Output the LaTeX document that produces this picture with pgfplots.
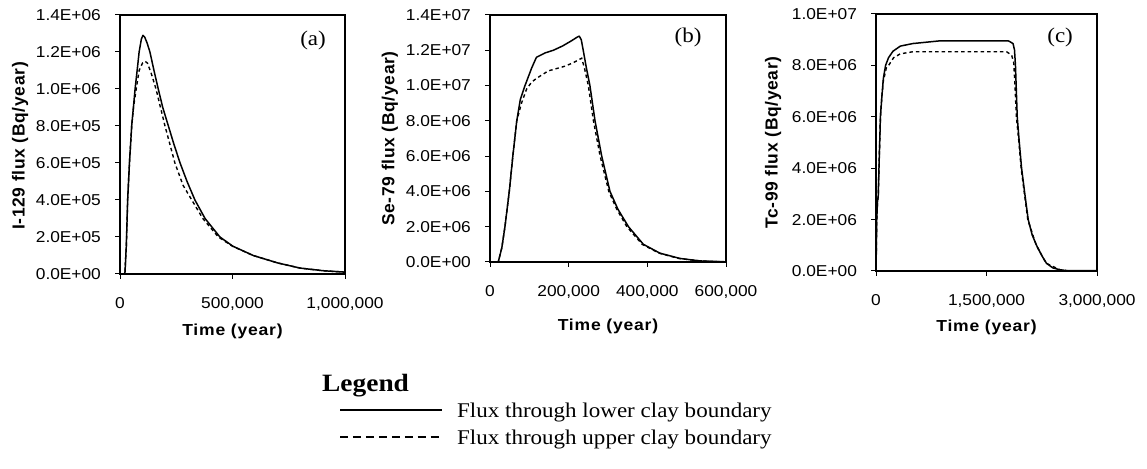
\documentclass[border=0pt]{standalone}
\usepackage{fontspec}
\setmainfont{Liberation Serif}[FakeStretch=1.1]
\setsansfont{Liberation Sans}[FakeStretch=1.1]
\newfontfamily\ylabfont{Liberation Sans}[LetterSpace=4]
\newfontfamily\xlabfont{Liberation Sans}[FakeStretch=1.1,LetterSpace=5]
\usepackage{pgfplots}
\pgfplotsset{compat=1.18}

\pgfplotsset{
  flux/.style={
    scale only axis, anchor=south west,
    axis line style={line width=1.1pt},
    tick align=outside, tick pos=left,
    major tick length=5pt, tick style={black, line width=1pt},
    ticklabel style={font=\fontsize{15.8}{18}\selectfont\sffamily},
    yticklabel style={anchor=east, inner sep=0pt, xshift=-14pt},
    xticklabel style={anchor=base, inner sep=0pt, yshift=-29.5pt},
    ylabel style={anchor=center, font=\fontsize{17.5}{20}\selectfont\ylabfont\bfseries},
    xlabel style={at={(axis description cs:0.5,0)}, anchor=center, font=\fontsize{16}{18}\selectfont\xlabfont\bfseries},
    scaled ticks=false,
    ymin=0, xmin=0, clip=false,
  },
  lower/.style={black, line width=1.5pt, line join=round, no markers},
  upper/.style={black, line width=1.4pt, dash pattern=on 3.5pt off 3pt, no markers},
}

\begin{document}
\begin{tikzpicture}[x=1bp,y=1bp]
\path[use as bounding box] (0,0) rectangle (1147,469);

% ---------------- (a) ----------------
\begin{axis}[flux, at={(120bp,195bp)}, width=225bp, height=259bp,
  xmax=1000000, ymax=1400000,
  xtick={0,500000,1000000}, xticklabels={0,{500,000},{1,000,000}},
  ytick={0,200000,400000,600000,800000,1000000,1200000,1400000},
  yticklabels={0.0E+00,2.0E+05,4.0E+05,6.0E+05,8.0E+05,1.0E+06,1.2E+06,1.4E+06},
  ylabel={I-129 flux (Bq/year)}, ylabel style={at={(axis description cs:-0.444,0.494)}},
  xlabel={Time (year)}, xlabel style={yshift=-58pt},
]
\addplot[lower] coordinates {
(0,0) (15000,0) (22000,5000) (28000,150000) (34000,400000) (42000,600000)
(52000,800000) (67000,1000000) (78000,1120000) (85000,1200000) (95000,1270000)
(102000,1290000) (110000,1280000) (120000,1250000) (133000,1200000) (151000,1100000)
(170000,1000000) (190000,900000) (215000,800000) (240000,700000) (267000,600000)
(298000,500000) (333000,400000) (378000,300000) (444000,200000) (502000,150000)
(592000,100000) (700000,60000) (800000,32000) (900000,18000) (1000000,10000)};
\addplot[upper] coordinates {
(0,0) (15000,0) (22000,5000) (28000,150000) (34000,400000) (42000,600000)
(52000,800000) (60000,900000) (72000,1000000) (85000,1100000) (100000,1140000)
(111000,1150000) (122000,1140000) (140000,1080000) (160000,1000000) (200000,800000)
(244000,600000) (280000,480000) (319000,400000) (368000,300000) (437000,200000)
(500000,150000) (592000,100000) (700000,60000) (800000,32000) (900000,18000) (1000000,10000)};
\node[font=\fontsize{21}{24}\selectfont\rmfamily] at (axis description cs:0.858,0.903) {(a)};
\end{axis}

% ---------------- (b) ----------------
\begin{axis}[flux, at={(490bp,207bp)}, width=236bp, height=247bp,
  xmax=600000, ymax=14000000,
  xtick={0,200000,400000,600000}, xticklabels={0,{200,000},{400,000},{600,000}},
  ytick={0,2000000,4000000,6000000,8000000,10000000,12000000,14000000},
  yticklabels={0.0E+00,2.0E+06,4.0E+06,6.0E+06,8.0E+06,1.0E+07,1.2E+07,1.4E+07},
  ylabel={Se-79 flux (Bq/year)}, ylabel style={at={(axis description cs:-0.424,0.5)}},
  xlabel={Time (year)}, xlabel style={yshift=-65pt},
]
\addplot[lower] coordinates {
(0,0) (21000,0) (30000,800000) (38000,2000000) (49000,4000000) (58000,6000000)
(68000,8000000) (77000,9200000) (89000,10000000) (106000,11000000) (118000,11600000)
(140000,11850000) (161000,12000000) (185000,12250000) (208000,12550000) (222000,12750000)
(227000,12800000) (232000,12600000) (237000,12000000) (245000,11000000) (254000,10000000)
(267000,8000000) (284000,6000000) (305000,4000000) (325000,3000000) (352000,2000000)
(390000,1000000) (432000,500000) (483000,200000) (534000,60000) (600000,10000)};
\addplot[upper] coordinates {
(0,0) (21000,0) (30000,800000) (38000,2000000) (49000,4000000) (58000,6000000)
(68000,8000000) (80000,9000000) (93000,9800000) (106000,10200000) (119000,10420000)
(148000,10830000) (191000,11100000) (212000,11300000) (233000,11550000) (240000,11000000)
(250000,10000000) (263000,8000000) (280000,6000000) (302000,4000000) (322000,3000000)
(348000,2000000) (387000,1000000) (430000,500000) (480000,200000) (534000,60000) (600000,10000)};
\node[font=\fontsize{21}{24}\selectfont\rmfamily] at (axis description cs:0.839,0.911) {(b)};
\end{axis}

% ---------------- (c) ----------------
\begin{axis}[flux, at={(876bp,198bp)}, width=221bp, height=257bp,
  xmax=3000000, ymax=10000000,
  xtick={0,1500000,3000000}, xticklabels={0,{1,500,000},{3,000,000}},
  ytick={0,2000000,4000000,6000000,8000000,10000000},
  yticklabels={0.0E+00,2.0E+06,4.0E+06,6.0E+06,8.0E+06,1.0E+07},
  ylabel={Tc-99 flux (Bq/year)}, ylabel style={at={(axis description cs:-0.466,0.5)}},
  xlabel={Time (year)}, xlabel style={yshift=-57pt},
]
\addplot[lower] coordinates {
(0,0) (4000,800000) (10000,2000000) (20000,2700000) (30000,2900000) (45000,4500000)
(60000,6000000) (80000,6800000) (100000,7500000) (130000,8000000) (170000,8300000)
(230000,8550000) (330000,8750000) (500000,8850000) (850000,8950000) (1800000,8950000)
(1860000,8850000) (1880000,8600000) (1893000,8000000) (1905000,7000000) (1917000,6000000)
(1945000,5000000) (1976000,4000000) (2020000,3000000) (2066000,2000000) (2120000,1400000)
(2179000,1000000) (2250000,600000) (2314000,300000) (2400000,120000) (2495000,50000)
(2600000,10000) (3000000,10000)};
\addplot[upper] coordinates {
(0,0) (4000,800000) (10000,2000000) (20000,2700000) (30000,2900000) (45000,4500000)
(60000,6000000) (80000,6800000) (100000,7400000) (140000,7900000) (171000,8000000)
(239000,8300000) (330000,8450000) (500000,8530000) (1773000,8530000) (1841000,8400000)
(1870000,8100000) (1890000,7000000) (1905000,6000000) (1940000,5000000) (1970000,4000000)
(2015000,3000000) (2060000,2000000) (2175000,1000000) (2310000,300000) (2495000,50000)
(2600000,10000) (3000000,10000)};
\node[font=\fontsize{21}{24}\selectfont\rmfamily] at (axis description cs:0.833,0.907) {(c)};
\end{axis}

% ---------------- legend ----------------
\node[anchor=base west, inner sep=0pt, font=\fontsize{25}{28}\selectfont\rmfamily\bfseries] at (322,77) {Legend};
\draw[line width=1.5pt] (340,59) -- (442,59);
\node[anchor=base west, inner sep=0pt, font=\fontsize{21}{24}\selectfont\rmfamily] at (457,51) {Flux through lower clay boundary};
\draw[line width=1.5pt, dash pattern=on 8pt off 5pt] (340,32) -- (442,32);
\node[anchor=base west, inner sep=0pt, font=\fontsize{21}{24}\selectfont\rmfamily] at (457,24) {Flux through upper clay boundary};
\end{tikzpicture}
\end{document}
